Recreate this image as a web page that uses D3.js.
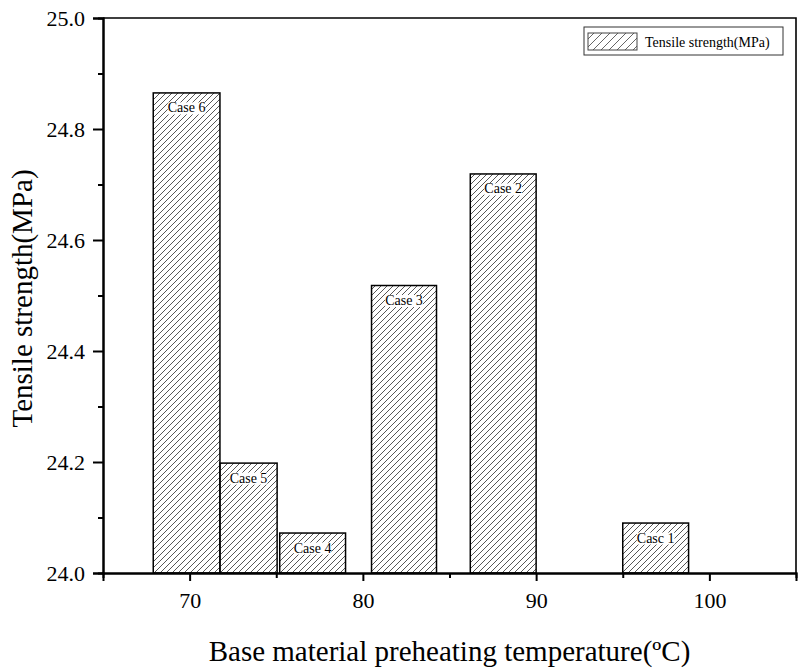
<!DOCTYPE html>
<html>
<head>
<meta charset="utf-8">
<script src="https://cdn.jsdelivr.net/npm/d3@7"></script>
<style>
  body { margin: 0; background: #fff; }
  svg text { font-family: "Liberation Serif", "Times New Roman", serif !important; fill: #000; }
</style>
</head>
<body>
<div id="chart-area"></div>
<script>
// data
var cases = ["Case 6", "Case 5", "Case 4", "Case 3", "Case 2", "Casc 1"]
var tempStart = [67.9, 71.75, 75.2, 80.5, 86.2, 95.0]
var tempEnd = [71.75, 75.05, 79.0, 84.25, 90.0, 98.8]
var strength = [24.865, 24.198, 24.072, 24.518, 24.719, 24.09]

var xTicks = [70, 80, 90, 100]
var xMinorTicks = [75, 85, 95]
var yTicks = [24.0, 24.2, 24.4, 24.6, 24.8, 25.0]
var yMinorTicks = [24.1, 24.3, 24.5, 24.7, 24.9]

var seriesName = "Tensile strength(MPa)"
var xTitle = "Base material preheating temperature(\u00baC)"
var yTitle = "Tensile strength(MPa)"

var SERIF = "'Liberation Serif', 'Times New Roman', serif"

var W = 805, H = 671
var margin = { left: 103, top: 18, right: 9, bottom: 98 }
var width = W - margin.left - margin.right,
    height = H - margin.top - margin.bottom

var svg = d3.select("#chart-area").append("svg")
    .attr("width", W)
    .attr("height", H)
    .style("font-family", SERIF)

var defs = svg.append("defs")

function hatch(id, step, color, sw) {
  defs.append("pattern")
      .attr("id", id)
      .attr("patternUnits", "userSpaceOnUse")
      .attr("width", step)
      .attr("height", step)
    .append("path")
      .attr("d", "M0," + step + " L" + step + ",0 M-1,1 L1,-1 M" + (step - 1) + "," + (step + 1) + " L" + (step + 1) + "," + (step - 1))
      .attr("stroke", color)
      .attr("stroke-width", sw)
}
hatch("hatch", 6, "#444", 0.9)
hatch("hatch-legend", 8, "#555", 0.9)

var g = svg.append("g")
    .attr("transform", "translate(" + margin.left + "," + margin.top + ")")

var x = d3.scaleLinear().domain([65, 105]).range([0, width])
var y = d3.scaleLinear().domain([24, 25]).range([height, 0])

var data = cases.map(function(c, i) {
  return { name: c, x0: tempStart[i], x1: tempEnd[i], v: strength[i] }
})

// bars
g.selectAll("rect.bar")
  .data(data)
  .enter().append("rect")
    .attr("class", "bar")
    .attr("x", function(d) { return x(d.x0) })
    .attr("y", function(d) { return y(d.v) })
    .attr("width", function(d) { return x(d.x1) - x(d.x0) })
    .attr("height", function(d) { return height - y(d.v) })
    .attr("fill", "url(#hatch)")
    .attr("stroke", "#000")
    .attr("stroke-width", 1.5)

// bar labels with white backing
var labels = g.selectAll("g.lbl")
  .data(data)
  .enter().append("g")
    .attr("class", "lbl")

labels.append("text")
    .attr("x", function(d) { return (x(d.x0) + x(d.x1)) / 2 })
    .attr("y", function(d) { return y(d.v) + 19.5 })
    .attr("text-anchor", "middle")
    .style("font-size", "14px")
    .text(function(d) { return d.name })

labels.each(function() {
  var t = d3.select(this).select("text")
  var bb = t.node().getBBox()
  d3.select(this).insert("rect", "text")
      .attr("x", bb.x)
      .attr("y", bb.y + 2)
      .attr("width", bb.width)
      .attr("height", bb.height - 3)
      .attr("fill", "#fff")
})

// frame (top and right)
g.append("path")
    .attr("d", "M0,0 H" + width + " V" + height)
    .attr("fill", "none")
    .attr("stroke", "#000")
    .attr("stroke-width", 1.6)

// axes
var xAxisCall = d3.axisBottom(x).tickValues(xTicks).tickSize(8).tickPadding(11)
var xMinorCall = d3.axisBottom(x).tickValues(xMinorTicks).tickSize(5).tickFormat("")
var yAxisCall = d3.axisLeft(y).tickValues(yTicks).tickSize(10).tickPadding(8)
    .tickFormat(d3.format(".1f"))
var yMinorCall = d3.axisLeft(y).tickValues(yMinorTicks).tickSize(5).tickFormat("")

function styleAxis(sel) {
  sel.attr("font-family", null).attr("font-size", null)
  sel.select(".domain").attr("stroke-width", 2).attr("stroke", "#000")
  sel.selectAll(".tick line").attr("stroke-width", 2).attr("stroke", "#000")
  sel.selectAll(".tick text")
    .style("font-size", "22px")
    .style("font-family", SERIF)
    .attr("fill", "#000")
}

g.append("g").attr("transform", "translate(0," + height + ")").call(xMinorCall).call(styleAxis)
g.append("g").attr("class", "x axis").attr("transform", "translate(0," + height + ")")
  .call(xAxisCall).call(styleAxis)
g.append("g").call(yMinorCall).call(styleAxis)
g.append("g").attr("class", "y axis").call(yAxisCall).call(styleAxis)

// axis titles
g.append("text")
    .attr("x", width / 2)
    .attr("y", height + 88)
    .attr("text-anchor", "middle")
    .style("font-size", "29px")
    .text(xTitle)

g.append("text")
    .attr("transform", "rotate(-90)")
    .attr("x", -(height / 2) - 3)
    .attr("y", -71)
    .attr("text-anchor", "middle")
    .style("font-size", "29px")
    .text(yTitle)

// legend
var lg = svg.append("g").attr("transform", "translate(584,27)")
lg.append("rect")
    .attr("width", 199)
    .attr("height", 28)
    .attr("fill", "#fff")
    .attr("stroke", "#333")
    .attr("stroke-width", 1)
lg.append("rect")
    .attr("x", 4)
    .attr("y", 6)
    .attr("width", 49)
    .attr("height", 17)
    .attr("fill", "url(#hatch-legend)")
    .attr("stroke", "#444")
    .attr("stroke-width", 1)
lg.append("text")
    .attr("x", 61)
    .attr("y", 20)
    .style("font-size", "14px")
    .text(seriesName)
</script>
</body>
</html>
